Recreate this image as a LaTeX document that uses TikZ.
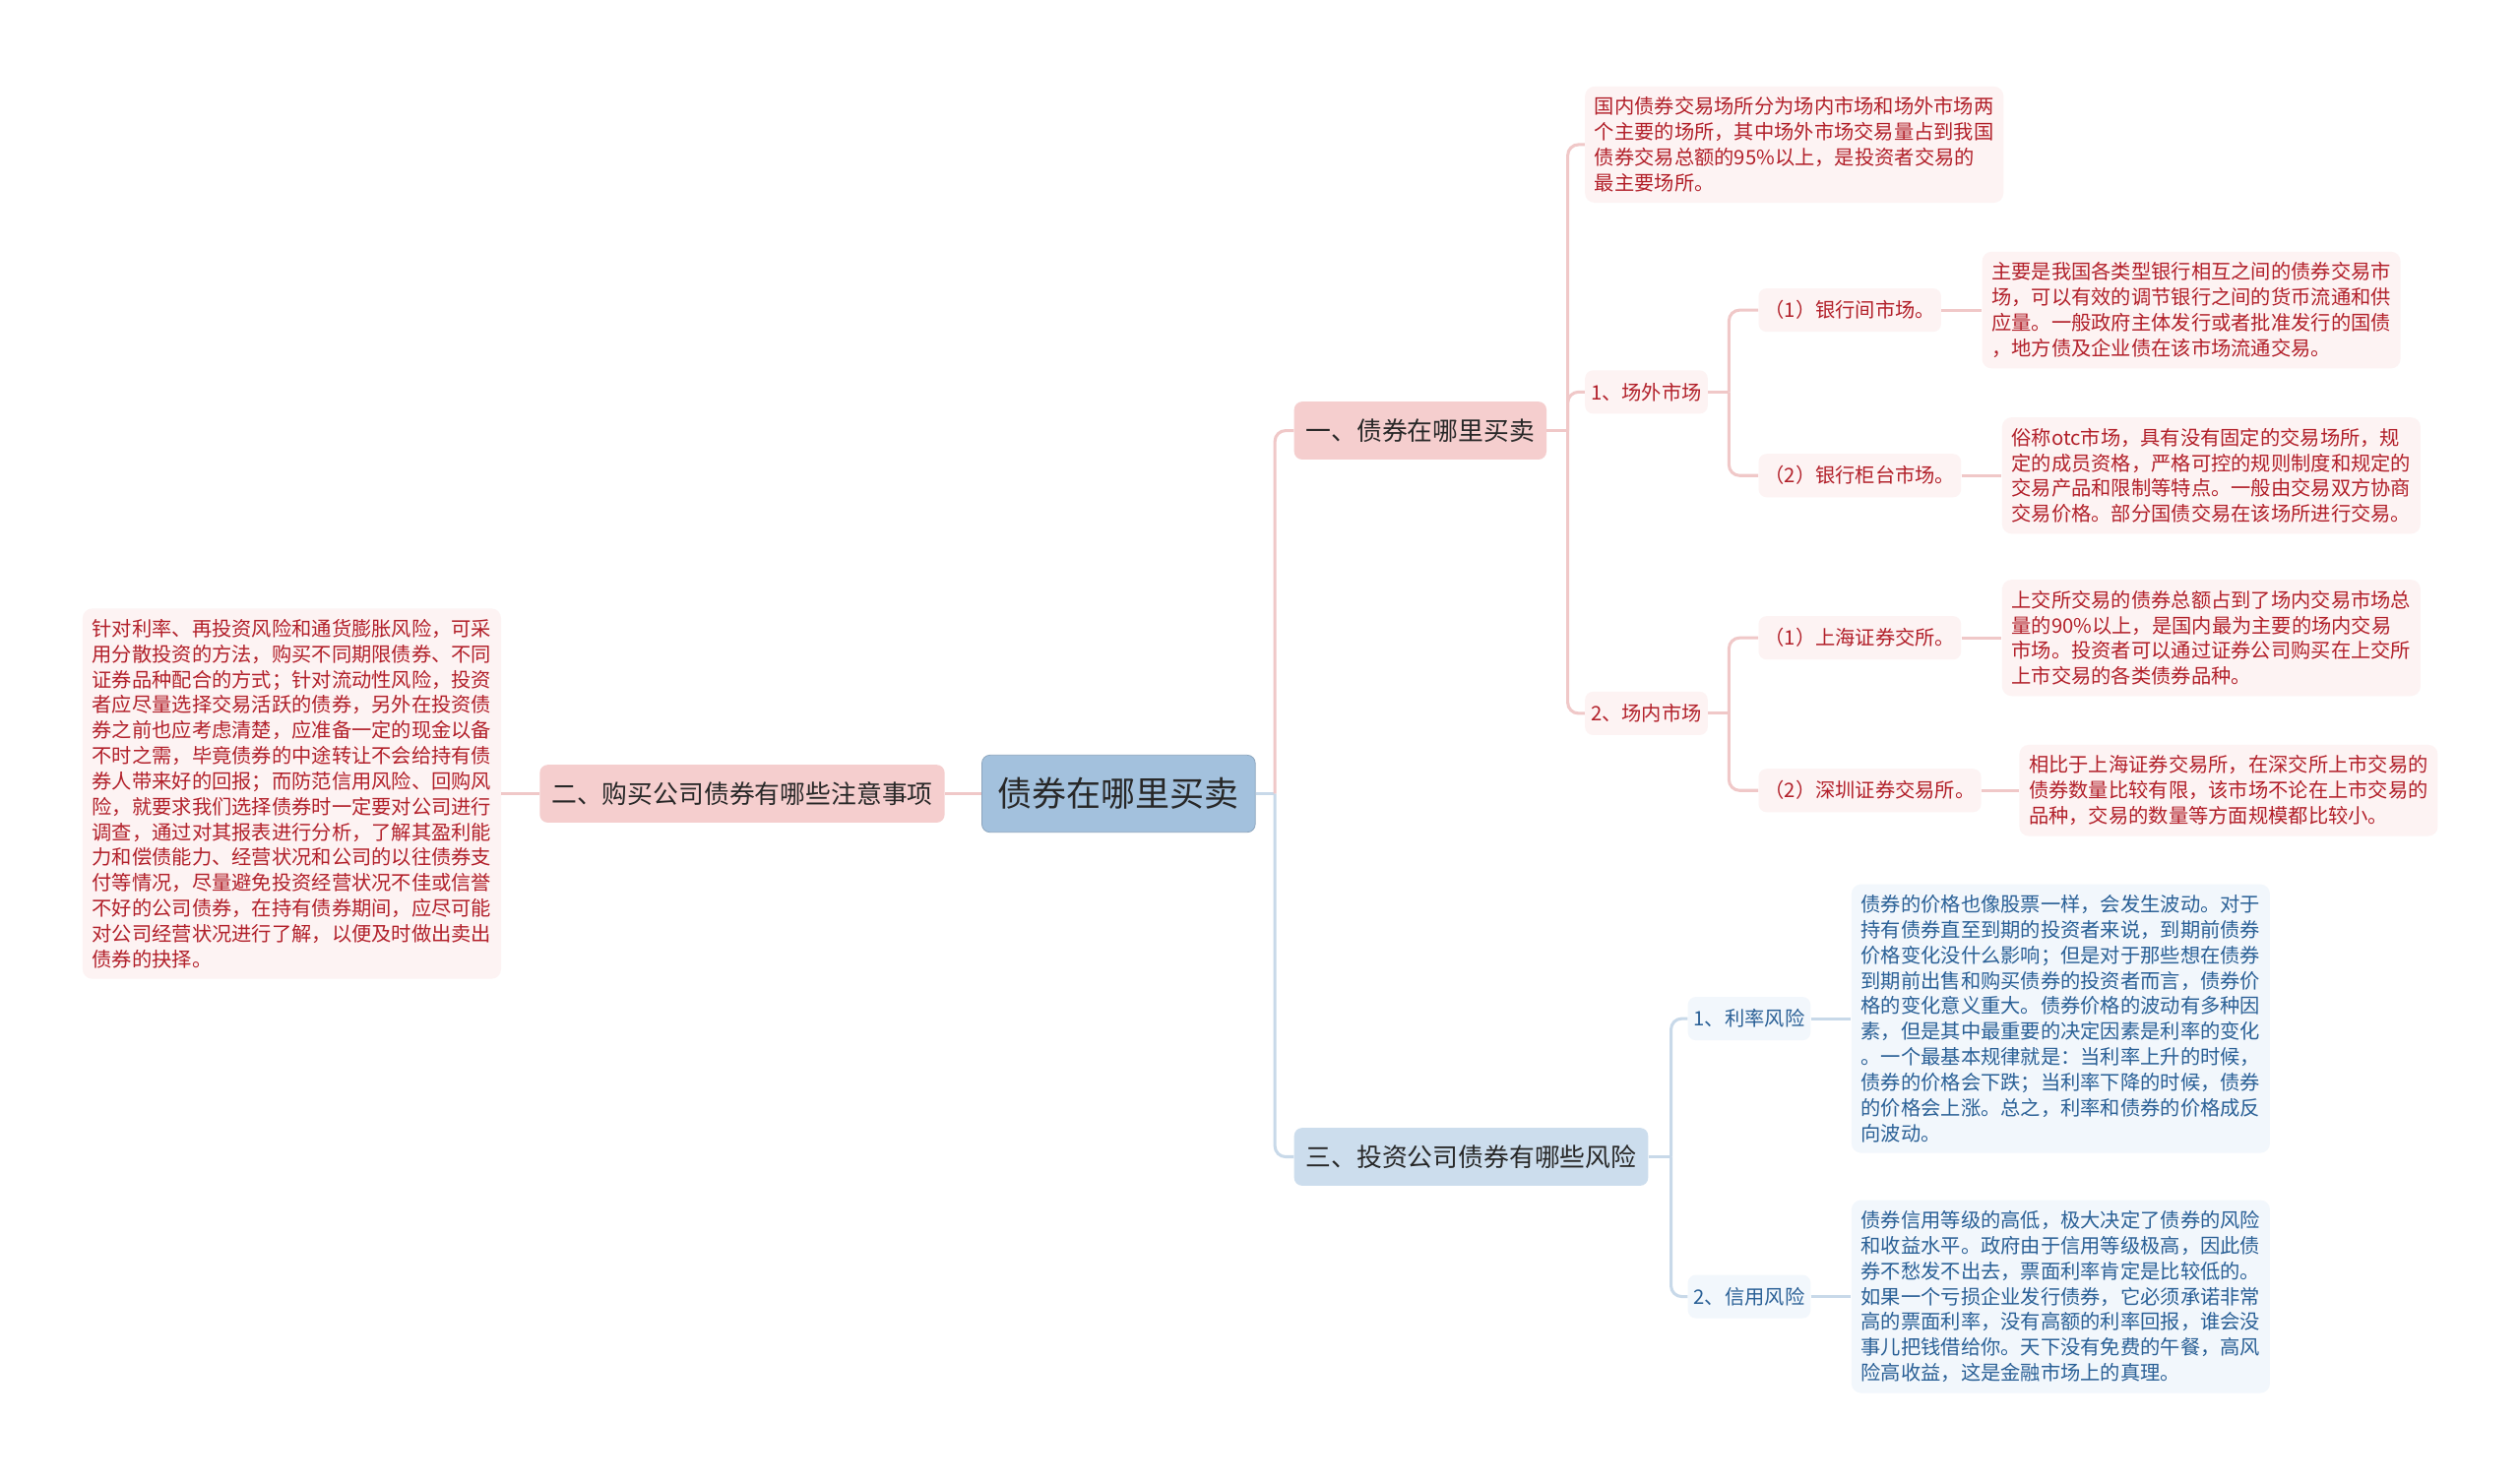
\documentclass[tikz,border=0pt]{standalone}
\usepackage{fontspec}
\newfontfamily\cjk{Noto Sans CJK SC}
\usetikzlibrary{positioning}

\definecolor{rootblue}{RGB}{163,193,221}
\definecolor{pinkfill}{RGB}{245,206,206}
\definecolor{bluefill}{RGB}{204,221,237}
\definecolor{pinkleaf}{RGB}{253,243,243}
\definecolor{blueleaf}{RGB}{242,247,252}
\definecolor{pinkline}{RGB}{240,200,200}
\definecolor{blueline}{RGB}{200,217,233}
\definecolor{redtext}{RGB}{178,32,42}
\definecolor{bluetext}{RGB}{42,96,150}
\definecolor{darktext}{RGB}{40,40,40}

\newcommand\leafsize{\fontsize{10.6pt}{13.5pt}\selectfont}

\tikzset{
  root/.style={fill=rootblue, draw=rootblue!85!black, line width=0.4pt, rounded corners=0.15cm,
    text=darktext, font=\cjk\fontsize{18.3pt}{22pt}\selectfont, inner xsep=0.3cm, minimum height=1.44cm},
  pinkbranch/.style={fill=pinkfill, rounded corners=0.15cm, text=darktext,
    font=\cjk\fontsize{13.5pt}{16pt}\selectfont, inner xsep=0.22cm, minimum height=1.08cm},
  bluebranch/.style={pinkbranch, fill=bluefill},
  pinkmid/.style={fill=pinkleaf, rounded corners=0.15cm, text=redtext, font=\cjk\leafsize,
    inner xsep=0.11cm, minimum height=0.81cm},
  bluemid/.style={pinkmid, fill=blueleaf, text=bluetext},
  pinkleafbox/.style={fill=pinkleaf, rounded corners=0.18cm, text=redtext, font=\cjk\leafsize,
    align=left, inner xsep=0.18cm, inner ysep=0.2cm},
  blueleafbox/.style={pinkleafbox, fill=blueleaf, text=bluetext},
  pinkedge/.style={draw=pinkline, line width=1.6pt, rounded corners=0.2cm},
  blueedge/.style={pinkedge, draw=blueline},
}

\begin{document}
\begin{tikzpicture}[x=0.03cm, y=-0.03cm]
  \fill[white] (0,0) rectangle (1568,922);
  \useasboundingbox (0,0) rectangle (1568,922);

  % centre and the two sides
  \node[root] (root) at (696,494) {债券在哪里买卖};
  \node[pinkbranch, anchor=east] (b2) at (588,494) {二、购买公司债券有哪些注意事项};
  \node[pinkleafbox, anchor=east] (leftleaf) at (312,494) {针对利率、再投资风险和通货膨胀风险，可采\\
    用分散投资的方法，购买不同期限债券、不同\\
    证券品种配合的方式；针对流动性风险，投资\\
    者应尽量选择交易活跃的债券，另外在投资债\\
    券之前也应考虑清楚，应准备一定的现金以备\\
    不时之需，毕竟债券的中途转让不会给持有债\\
    券人带来好的回报；而防范信用风险、回购风\\
    险，就要求我们选择债券时一定要对公司进行\\
    调查，通过对其报表进行分析，了解其盈利能\\
    力和偿债能力、经营状况和公司的以往债券支\\
    付等情况，尽量避免投资经营状况不佳或信誉\\
    不好的公司债券，在持有债券期间，应尽可能\\
    对公司经营状况进行了解，以便及时做出卖出\\
    债券的抉择。};

  \node[pinkbranch, anchor=west] (b1) at (805,268) {一、债券在哪里买卖};
  \node[bluebranch, anchor=west] (b3) at (805,720) {三、投资公司债券有哪些风险};

  % branch one
  \node[pinkleafbox, anchor=west] (venue) at (986,90) {国内债券交易场所分为场内市场和场外市场两\\
    个主要的场所，其中场外市场交易量占到我国\\
    债券交易总额的95\%以上，是投资者交易的\\
    最主要场所。};
  \node[pinkmid, anchor=west] (otc) at (986,244) {1、场外市场};
  \node[pinkmid, anchor=west] (floor) at (986,444) {2、场内市场};

  \node[pinkmid, anchor=west] (interbank) at (1094,193) {（1）银行间市场。};
  \node[pinkmid, anchor=west] (counter) at (1094,296) {（2）银行柜台市场。};
  \node[pinkmid, anchor=west] (shse) at (1094,397) {（1）上海证券交所。};
  \node[pinkmid, anchor=west] (szse) at (1094,492) {（2）深圳证券交易所。};

  \node[pinkleafbox, right=0.75cm of interbank] (interbanktxt) {主要是我国各类型银行相互之间的债券交易市\\
    场，可以有效的调节银行之间的货币流通和供\\
    应量。一般政府主体发行或者批准发行的国债\\
    ，地方债及企业债在该市场流通交易。};
  \node[pinkleafbox, right=0.75cm of counter] (countertxt) {俗称otc市场，具有没有固定的交易场所，规\\
    定的成员资格，严格可控的规则制度和规定的\\
    交易产品和限制等特点。一般由交易双方协商\\
    交易价格。部分国债交易在该场所进行交易。};
  \node[pinkleafbox, right=0.75cm of shse] (shsetxt) {上交所交易的债券总额占到了场内交易市场总\\
    量的90\%以上，是国内最为主要的场内交易\\
    市场。投资者可以通过证券公司购买在上交所\\
    上市交易的各类债券品种。};
  \node[pinkleafbox, right=0.7cm of szse] (szsetxt) {相比于上海证券交易所，在深交所上市交易的\\
    债券数量比较有限，该市场不论在上市交易的\\
    品种，交易的数量等方面规模都比较小。};

  % branch three
  \node[bluemid, anchor=west] (rate) at (1050,634) {1、利率风险};
  \node[bluemid, anchor=west] (credit) at (1050,807) {2、信用风险};
  \node[blueleafbox, right=0.75cm of rate] (ratetxt) {债券的价格也像股票一样，会发生波动。对于\\
    持有债券直至到期的投资者来说，到期前债券\\
    价格变化没什么影响；但是对于那些想在债券\\
    到期前出售和购买债券的投资者而言，债券价\\
    格的变化意义重大。债券价格的波动有多种因\\
    素，但是其中最重要的决定因素是利率的变化\\
    。一个最基本规律就是：当利率上升的时候，\\
    债券的价格会下跌；当利率下降的时候，债券\\
    的价格会上涨。总之，利率和债券的价格成反\\
    向波动。};
  \node[blueleafbox, right=0.75cm of credit] (credittxt) {债券信用等级的高低，极大决定了债券的风险\\
    和收益水平。政府由于信用等级极高，因此债\\
    券不愁发不出去，票面利率肯定是比较低的。\\
    如果一个亏损企业发行债券，它必须承诺非常\\
    高的票面利率，没有高额的利率回报，谁会没\\
    事儿把钱借给你。天下没有免费的午餐，高风\\
    险高收益，这是金融市场上的真理。};

  % junctions
  \coordinate (jroot) at ([xshift=0.36cm]root.east);
  \coordinate (jb1) at ([xshift=0.39cm]b1.east);
  \coordinate (jotc) at ([xshift=0.39cm]otc.east);
  \coordinate (jfloor) at ([xshift=0.39cm]floor.east);
  \coordinate (jb3) at ([xshift=0.42cm]b3.east);

  % connectors
  \draw[pinkedge] (leftleaf.east) -- (b2.west);
  \draw[pinkedge] (b2.east) -- (root.west);
  \draw[blueedge] (root.east) -- (jroot);
  \draw[pinkedge] (jroot) |- (b1.west);
  \draw[blueedge] (jroot) |- (b3.west);

  \draw[pinkedge] (b1.east) -- (jb1);
  \draw[pinkedge] (jb1) |- (venue.west);
  \draw[pinkedge] (jb1) |- (otc.west);
  \draw[pinkedge] (jb1) |- (floor.west);

  \draw[pinkedge] (otc.east) -- (jotc);
  \draw[pinkedge] (jotc) |- (interbank.west);
  \draw[pinkedge] (jotc) |- (counter.west);
  \draw[pinkedge] (floor.east) -- (jfloor);
  \draw[pinkedge] (jfloor) |- (shse.west);
  \draw[pinkedge] (jfloor) |- (szse.west);

  \draw[pinkedge] (interbank.east) -- (interbanktxt.west);
  \draw[pinkedge] (counter.east) -- (countertxt.west);
  \draw[pinkedge] (shse.east) -- (shsetxt.west);
  \draw[pinkedge] (szse.east) -- (szsetxt.west);

  \draw[blueedge] (b3.east) -- (jb3);
  \draw[blueedge] (jb3) |- (rate.west);
  \draw[blueedge] (jb3) |- (credit.west);
  \draw[blueedge] (rate.east) -- (ratetxt.west);
  \draw[blueedge] (credit.east) -- (credittxt.west);
\end{tikzpicture}
\end{document}
